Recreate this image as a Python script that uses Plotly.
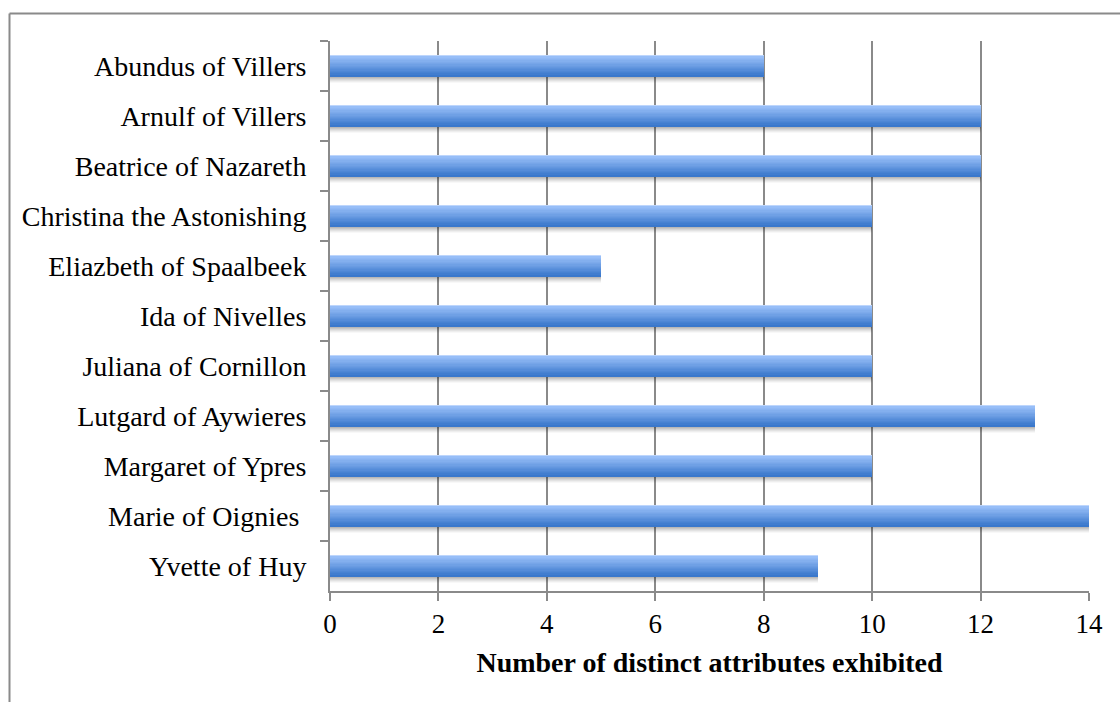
import plotly.graph_objects as go

names = ["Abundus of Villers", "Arnulf of Villers", "Beatrice of Nazareth",
         "Christina the Astonishing", "Eliazbeth of Spaalbeek", "Ida of Nivelles",
         "Juliana of Cornillon", "Lutgard of Aywieres", "Margaret of Ypres",
         "Marie of Oignies ", "Yvette of Huy"]
values = [8, 12, 12, 10, 5, 10, 10, 13, 10, 14, 9]
x_ticks = [0, 2, 4, 6, 8, 10, 12, 14]
x_title = "Number of distinct attributes exhibited"

FONT = "Liberation Serif"
GRAY = "#8a8a8a"

# plot area geometry (pixels)
L, R, T, B = 330, 1089, 41, 591
W, H = 1120, 702

def lerp(c1, c2, t):
    return "rgb(%d,%d,%d)" % tuple(round(a + (b - a) * t) for a, b in zip(c1, c2))

fig = go.Figure()

half = 0.21
# shadow strips below bar
n_sh = 6
sh_h = 0.12 / n_sh
for i in range(n_sh):
    a = 0.28 * (1 - i / n_sh) ** 1.3
    fig.add_trace(go.Bar(x=values, y=names, orientation="h",
                         width=sh_h, offset=half + i * sh_h,
                         marker=dict(color="rgba(0,0,0,%.3f)" % a, line_width=0),
                         hoverinfo="skip", showlegend=False))

# gradient strips for bar body
n = 16
h = 2 * half / n
top = (0x9e, 0xc3, 0xfb)
bot = (0x3a, 0x78, 0xcc)
for i in range(n):
    t = i / (n - 1)
    c = lerp(top, bot, t)
    if i == 0:
        c = "rgb(190,214,252)"
    fig.add_trace(go.Bar(x=values, y=names, orientation="h",
                         width=h * 1.05, offset=-half + i * h,
                         marker=dict(color=c, line_width=0),
                         hoverinfo="skip", showlegend=False))

def px_x(x):
    return (x - L) / (R - L)

def px_y(y):
    return (B - y) / (B - T)

fig.add_shape(type="line", xref="paper", yref="paper",
              x0=px_x(9.5), x1=px_x(1125), y0=px_y(13.5), y1=px_y(13.5),
              line=dict(color=GRAY, width=2))
fig.add_shape(type="line", xref="paper", yref="paper",
              x0=px_x(9.5), x1=px_x(9.5), y0=px_y(13.5), y1=px_y(710),
              line=dict(color=GRAY, width=2))

fig.update_layout(
    width=W, height=H,
    margin=dict(l=L, r=W - R, t=T, b=H - B),
    paper_bgcolor="white", plot_bgcolor="white",
    barmode="overlay", bargap=0,
    font=dict(family=FONT, size=28, color="black"),
    xaxis=dict(range=[0, 14], tickvals=x_ticks, ticktext=[str(v) for v in x_ticks],
               showgrid=True, gridcolor=GRAY, gridwidth=2,
               showline=True, linecolor=GRAY, linewidth=2,
               ticks="outside", ticklen=8, tickwidth=2, tickcolor=GRAY,
               tickfont=dict(family=FONT, size=27),
               zeroline=False,
               title=dict(text="<b>" + x_title + "</b>",
                          font=dict(family=FONT, size=28), standoff=14)),
    yaxis=dict(autorange="reversed", type="category",
               showgrid=False, showline=True, linecolor=GRAY, linewidth=2,
               ticks="outside", ticklen=8, tickwidth=2, tickcolor=GRAY,
               tickson="boundaries",
               tickfont=dict(family=FONT, size=28),
               ticklabelstandoff=16),
)

fig.write_html("out.html")
